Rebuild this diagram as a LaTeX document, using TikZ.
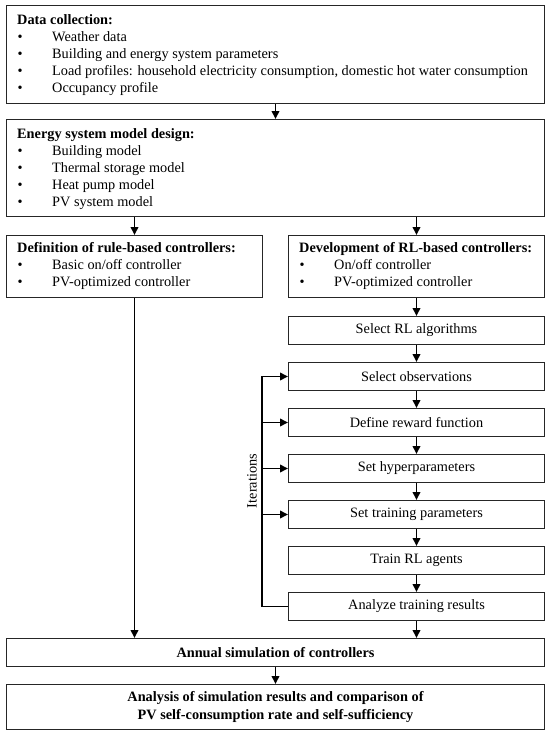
\documentclass[tikz,border=0pt]{standalone}
\usepackage{fontspec}
\setmainfont{Liberation Serif}
\usetikzlibrary{arrows.meta,calc}

\begin{document}
\begin{tikzpicture}[x=1pt,y=-1pt,
  box/.style={draw=black!85,line width=1pt,rectangle,inner sep=0pt,anchor=north west,
    font=\fontsize{14.3}{17.5}\selectfont,align=center},
  arr/.style={line width=1.9pt,-{Triangle[length=8pt,width=7.5pt]}},
  txt/.style={font=\fontsize{14.3}{17.5}\selectfont,inner sep=0pt,text height=11.5pt,text depth=2.5pt},
  ttl/.style={txt,font=\fontsize{14.3}{17.5}\selectfont\bfseries,anchor=west},
  itm/.style={txt,anchor=west},
  ]
\fill[white] (0,0) rectangle (550,736);
\useasboundingbox (0,0) rectangle (550,736);

% boxes
\node[box,minimum width=538pt,minimum height=98pt] (b1) at (6,5) {};
\node[box,minimum width=538pt,minimum height=97pt] (b2) at (6,119) {};
\node[box,minimum width=256pt,minimum height=62pt] (b3) at (6,235) {};
\node[box,minimum width=256pt,minimum height=62pt] (b4) at (288,235) {};
\node[box,minimum width=256pt,minimum height=28pt] (s1) at (288,316) {Select RL algorithms};
\node[box,minimum width=256pt,minimum height=28pt] (s2) at (288,362) {Select observations};
\node[box,minimum width=256pt,minimum height=28pt] (s3) at (288,408) {Define reward function};
\node[box,minimum width=256pt,minimum height=28pt] (s4) at (288,454) {Set hyperparameters};
\node[box,minimum width=256pt,minimum height=28pt] (s5) at (288,500) {Set training parameters};
\node[box,minimum width=256pt,minimum height=28pt] (s6) at (288,546) {Train RL agents};
\node[box,minimum width=256pt,minimum height=28pt] (s7) at (288,592) {Analyze training results};
\node[box,minimum width=538pt,minimum height=28pt] (b5) at (6,638) {\bfseries Annual simulation of controllers};
\node[box,minimum width=538pt,minimum height=45pt] (b6) at (6,684) {\bfseries Analysis of simulation results and comparison of\\\bfseries PV self-consumption rate and self-sufficiency};

% box 1 text
\node[ttl] (t1) at (17,20) {Data collection:};
\foreach \y/\t in {37/{Weather data}, 54/{Building and energy system parameters},
  71/{Load profiles: household electricity consumption, domestic hot water consumption},
  88/{Occupancy profile}}{
  \node[itm] at (17.5,\y) {•};
  \node[itm] at (52,\y) {\t};
}
% box 2 text
\node[ttl] (t2) at (17,134) {Energy system model design:};
\foreach \y/\t in {151/{Building model}, 168/{Thermal storage model}, 185/{Heat pump model}, 202/{PV system model}}{
  \node[itm] at (17.5,\y) {•};
  \node[itm] at (52,\y) {\t};
}
% box 3 text
\node[ttl] (t3) at (17,248) {Definition of rule-based controllers:};
\foreach \y/\t in {265/{Basic on/off controller}, 282/{PV-optimized controller}}{
  \node[itm] at (17.5,\y) {•};
  \node[itm] at (52,\y) {\t};
}
% box 4 text
\node[ttl] (t4) at (299,248) {Development of RL-based controllers:};
\foreach \y/\t in {265/{On/off controller}, 282/{PV-optimized controller}}{
  \node[itm] at (299.5,\y) {•};
  \node[itm] at (334,\y) {\t};
}

% connectors
\draw[arr] (b1.south) -- (b2.north);
\draw[arr] (b3.north |- b2.south) -- (b3.north);
\draw[arr] (b4.north |- b2.south) -- (b4.north);
\draw[arr] (b4.south) -- (s1.north);
\draw[arr] (s1.south) -- (s2.north);
\draw[arr] (s2.south) -- (s3.north);
\draw[arr] (s3.south) -- (s4.north);
\draw[arr] (s4.south) -- (s5.north);
\draw[arr] (s5.south) -- (s6.north);
\draw[arr] (s6.south) -- (s7.north);
\draw[arr] (s7.south) -- (s7.south |- b5.north);
\draw[arr] (b3.south) -- (b3.south |- b5.north);
\draw[arr] (b5.south) -- (b6.north);

% iterations loop
\coordinate (ib) at ($(s7.west)+(-26,0)$);
\coordinate (it) at (ib |- s2.west);
\draw[arr] (s7.west) -- (ib) -- (it) -- (s2.west);
\draw[arr] (ib |- s3.west) -- (s3.west);
\draw[arr] (ib |- s4.west) -- (s4.west);
\draw[arr] (ib |- s5.west) -- (s5.west);
\node[txt,rotate=90] (iter) at (252,481) {Iterations};
\end{tikzpicture}
\end{document}
